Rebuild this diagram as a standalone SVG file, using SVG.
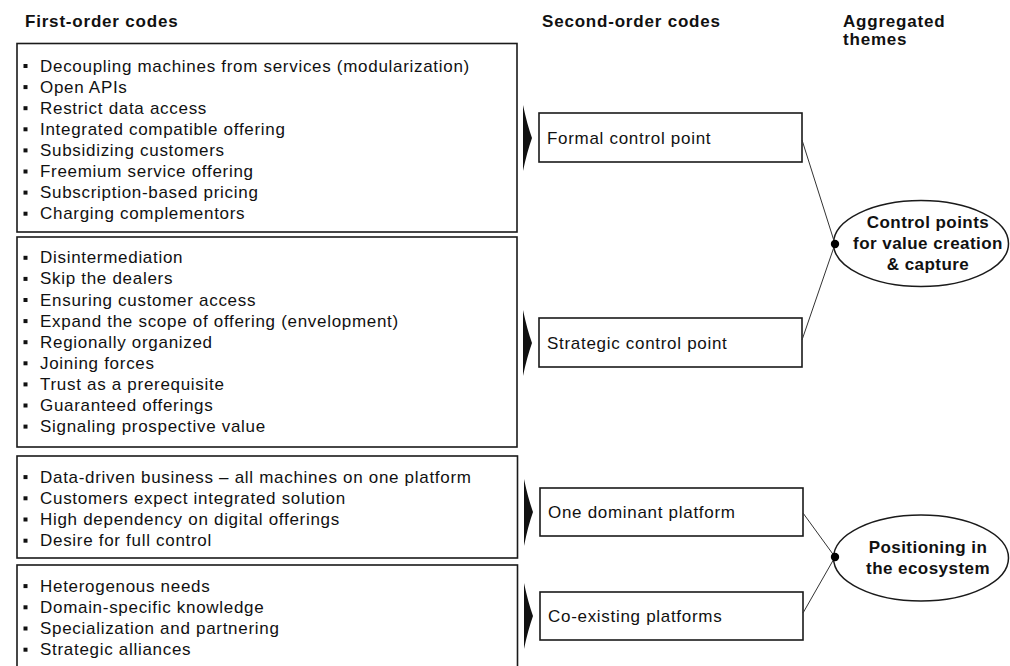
<svg xmlns="http://www.w3.org/2000/svg" width="1010" height="666" viewBox="0 0 1010 666">
<defs>
<style>
.hdr{font-family:"Liberation Sans",Arial,sans-serif;font-weight:bold;font-size:17px;letter-spacing:0.8px;fill:#111}
.item{font-family:"Liberation Sans",Arial,sans-serif;font-size:17px;letter-spacing:0.7px;fill:#111}
.theme{font-family:"Liberation Sans",Arial,sans-serif;font-weight:bold;font-size:17px;letter-spacing:0.45px;fill:#111;text-anchor:middle}
.box{fill:#fff;stroke:#1a1a1a;stroke-width:1.6}
.code{fill:#fff;stroke:#1a1a1a;stroke-width:1.6}
.oval{fill:#fff;stroke:#1a1a1a;stroke-width:1.5}
.bul{fill:#111}
.arr{fill:#111}
.link{stroke:#333;stroke-width:1;fill:none}
.dot{fill:#000}
</style>
</defs>
<rect width="1010" height="666" fill="#fff"/>

<g id="headers">
<text class="hdr" x="25" y="27">First-order codes</text>
<text class="hdr" x="542" y="27">Second-order codes</text>
<text class="hdr" x="843" y="27">Aggregated</text>
<text class="hdr" x="843" y="45">themes</text>
</g>

<g id="first-order-1">
<rect class="box" x="17" y="43.5" width="500" height="188.5"/>
<g class="bul">
<rect x="23.5" y="64" width="4" height="4"/><rect x="23.5" y="85.1" width="4" height="4"/><rect x="23.5" y="106.2" width="4" height="4"/><rect x="23.5" y="127.3" width="4" height="4"/><rect x="23.5" y="148.4" width="4" height="4"/><rect x="23.5" y="169.5" width="4" height="4"/><rect x="23.5" y="190.6" width="4" height="4"/><rect x="23.5" y="211.7" width="4" height="4"/>
</g>
<text class="item" x="40" y="71.5">Decoupling machines from services (modularization)</text>
<text class="item" x="40" y="92.6">Open APIs</text>
<text class="item" x="40" y="113.7">Restrict data access</text>
<text class="item" x="40" y="134.8">Integrated compatible offering</text>
<text class="item" x="40" y="155.9">Subsidizing customers</text>
<text class="item" x="40" y="177">Freemium service offering</text>
<text class="item" x="40" y="198.1">Subscription-based pricing</text>
<text class="item" x="40" y="219.2">Charging complementors</text>
</g>

<g id="first-order-2">
<rect class="box" x="17" y="237" width="500" height="210"/>
<g class="bul">
<rect x="23.5" y="255.8" width="4" height="4"/><rect x="23.5" y="276.9" width="4" height="4"/><rect x="23.5" y="298" width="4" height="4"/><rect x="23.5" y="319.1" width="4" height="4"/><rect x="23.5" y="340.2" width="4" height="4"/><rect x="23.5" y="361.3" width="4" height="4"/><rect x="23.5" y="382.4" width="4" height="4"/><rect x="23.5" y="403.5" width="4" height="4"/><rect x="23.5" y="424.6" width="4" height="4"/>
</g>
<text class="item" x="40" y="263.3">Disintermediation</text>
<text class="item" x="40" y="284.4">Skip the dealers</text>
<text class="item" x="40" y="305.5">Ensuring customer access</text>
<text class="item" x="40" y="326.6">Expand the scope of offering (envelopment)</text>
<text class="item" x="40" y="347.7">Regionally organized</text>
<text class="item" x="40" y="368.8">Joining forces</text>
<text class="item" x="40" y="389.9">Trust as a prerequisite</text>
<text class="item" x="40" y="411">Guaranteed offerings</text>
<text class="item" x="40" y="432.1">Signaling prospective value</text>
</g>

<g id="first-order-3">
<rect class="box" x="17" y="456" width="500.5" height="102"/>
<g class="bul">
<rect x="23.5" y="475.1" width="4" height="4"/><rect x="23.5" y="496.3" width="4" height="4"/><rect x="23.5" y="517.5" width="4" height="4"/><rect x="23.5" y="538.7" width="4" height="4"/>
</g>
<text class="item" x="40" y="482.6">Data-driven business – all machines on one platform</text>
<text class="item" x="40" y="503.8">Customers expect integrated solution</text>
<text class="item" x="40" y="525">High dependency on digital offerings</text>
<text class="item" x="40" y="546.2">Desire for full control</text>
</g>

<g id="first-order-4">
<rect class="box" x="17" y="565" width="500.5" height="110"/>
<g class="bul">
<rect x="23.5" y="584.1" width="4" height="4"/><rect x="23.5" y="605.3" width="4" height="4"/><rect x="23.5" y="626.5" width="4" height="4"/><rect x="23.5" y="647.7" width="4" height="4"/>
</g>
<text class="item" x="40" y="591.6">Heterogenous needs</text>
<text class="item" x="40" y="612.8">Domain-specific knowledge</text>
<text class="item" x="40" y="634">Specialization and partnering</text>
<text class="item" x="40" y="655.2">Strategic alliances</text>
</g>

<g id="second-formal">
<rect class="code" x="539" y="113" width="263" height="49"/>
<text class="item" x="547" y="144">Formal control point</text>
</g>
<g id="second-strategic">
<rect class="code" x="539" y="318" width="263" height="49"/>
<text class="item" x="547" y="349">Strategic control point</text>
</g>
<g id="second-dominant">
<rect class="code" x="540" y="488" width="263" height="48"/>
<text class="item" x="548" y="518">One dominant platform</text>
</g>
<g id="second-coexisting">
<rect class="code" x="540" y="592" width="263" height="48"/>
<text class="item" x="548" y="622">Co-existing platforms</text>
</g>

<g id="theme-control">
<ellipse class="oval" cx="921" cy="243.5" rx="87.5" ry="43"/>
<text class="theme" x="928" y="228">Control points</text>
<text class="theme" x="928" y="249">for value creation</text>
<text class="theme" x="928" y="270">&amp; capture</text>
</g>
<g id="theme-positioning">
<ellipse class="oval" cx="921" cy="558" rx="87.5" ry="43"/>
<text class="theme" x="928" y="553">Positioning in</text>
<text class="theme" x="928" y="574">the ecosystem</text>
</g>

<g id="connectors">
<path class="arr" d="M523,105 Q527,124 532,138 Q527,152 523,171 Z"/>
<path class="arr" d="M523,310 Q527,329 532,343 Q527,357 523,376 Z"/>
<path class="arr" d="M524,479 Q528,498 533,512 Q528,526 524,546 Z"/>
<path class="arr" d="M524,583 Q528,602 533,616 Q528,630 524,649 Z"/>
<line class="link" x1="802" y1="140" x2="835" y2="244"/>
<line class="link" x1="802" y1="340" x2="835" y2="244"/>
<line class="link" x1="803" y1="513" x2="835" y2="557"/>
<line class="link" x1="803" y1="613" x2="835" y2="557"/>
<circle class="dot" cx="835" cy="244" r="4.2"/>
<circle class="dot" cx="835" cy="557" r="4.2"/>
</g>
</svg>
